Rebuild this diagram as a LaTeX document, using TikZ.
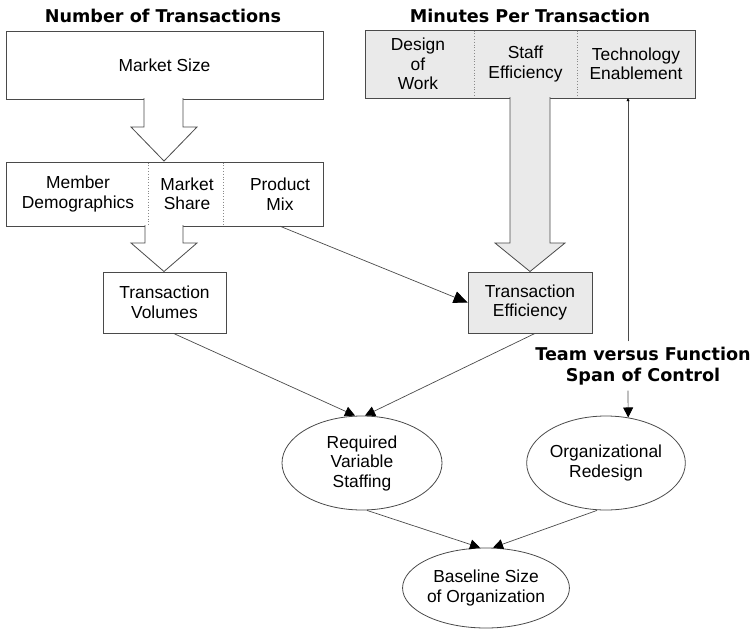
\documentclass[tikz,border=0pt]{standalone}
\usepackage{fontspec}
\setmainfont{Liberation Sans}
\newfontfamily\titlefont{DejaVu Sans}
\usetikzlibrary{arrows.meta,shapes.geometric}

\definecolor{panelgray}{HTML}{EAEAEA}
\definecolor{edgegray}{HTML}{4A4A4A}
\definecolor{dotgray}{HTML}{8A8A8A}

\tikzset{
  body/.style={font=\fontsize{17.4}{19.5}\selectfont, align=center, inner sep=0pt},
  heading/.style={font=\titlefont\bfseries\fontsize{17.6}{21}\selectfont, align=center, inner sep=0pt},
  box/.style={body, draw=edgegray, line width=0.8pt},
  graybox/.style={box, fill=panelgray},
  oval/.style={body, ellipse, draw=edgegray, line width=0.8pt},
  divider/.style={draw=dotgray, line width=0.8pt, dotted},
  blockarrow/.style={draw=edgegray, line width=0.8pt, line join=miter},
  link/.style={draw=edgegray, line width=0.7pt, -{Triangle[length=10pt,width=10pt,color=black]}},
}

\begin{document}
\begin{tikzpicture}[x=1pt,y=-1pt]
\useasboundingbox (0,0) rectangle (755,629);

% column headings
\node[heading, anchor=base] (hleft) at (163,23) {Number of Transactions};
\node[heading, anchor=base] (hright) at (530,23) {Minutes Per Transaction};

% left column: market size
\node[box, minimum width=317pt, minimum height=68pt] (msize) at (164.5,65) {Market Size};

% left column: three factors in one row
\node[box, minimum width=317pt, minimum height=64pt] (row) at (164.5,194) {};
\node[body, minimum height=64pt] (demo) at (78,194) {Member\\Demographics};
\node[body, minimum height=64pt] (share) at (187,194) {Market\\Share};
\node[body, minimum height=64pt] (mix) at (280,194) {Product\\Mix};
\draw[divider] (148,162.5) -- (148,225.5);
\draw[divider] (223,162.5) -- (223,225.5);

% transaction volumes
\node[box, minimum width=123pt, minimum height=61pt] (tv) at (164.5,302.5) {Transaction\\Volumes};

% right column: three levers
\node[graybox, minimum width=330pt, minimum height=68pt] (mpt) at (530,64) {};
\node[body, minimum height=68pt] (design) at (418,64) {Design\\of\\Work};
\node[body, minimum height=68pt] (staff) at (525.5,64) {Staff\\Efficiency};
\node[body, minimum height=68pt] (tech) at (636,64) {Technology\\Enablement};
\draw[divider] (474,30.5) -- (474,97.5);
\draw[divider] (577,30.5) -- (577,97.5);

% transaction efficiency
\node[graybox, minimum width=124pt, minimum height=61pt] (te) at (530,302.5) {Transaction\\Efficiency};

% block arrows (open at the top so they merge with the box above)
\path[blockarrow, fill=white]
  (144,98) -- (144,127) -- (131,127) -- (164,161) -- (197,127) -- (183,127) -- (183,98);
\path[blockarrow, fill=white]
  (145,225) -- (145,243) -- (131,243) -- (164,271.5) -- (197,243) -- (183,243) -- (183,225);
\path[blockarrow, fill=panelgray]
  (510,97) -- (510,243) -- (495,243) -- (530,271.5) -- (565,243) -- (550,243) -- (550,97);

% team versus function label
\node[heading, minimum height=49pt] (team) at (643,366) {Team versus Function\\Span of Control};

% ellipses
\node[oval, minimum width=160pt, minimum height=94pt] (rvs) at (362,463) {Required\\Variable\\Staffing};
\node[oval, minimum width=154pt, minimum height=94pt] (org) at (606,463) {Organizational\\Redesign};
\node[oval, minimum width=166pt, minimum height=80pt] (base) at (486,588) {Baseline Size\\of Organization};

% connectors
\draw[link, -{Triangle[length=14pt,width=12pt,color=black]}] (mix.south) -- (te.west);
\draw[link] ([xshift=9pt]tv.south) -- ([xshift=-7pt]rvs.north);
\draw[link] ([xshift=5pt]te.south) -- ([xshift=3pt]rvs.north);
\draw[link, -{Triangle[length=3pt,width=3pt,color=black]}] ([xshift=-15pt]team.north) -- ([xshift=-15pt]team.north |- tech.south);
\draw[link] ([xshift=-15pt]team.south) -- (org.64);
\draw[link] ([xshift=5pt]rvs.south) -- ([xshift=-6pt]base.north);
\draw[link] ([xshift=-9pt]org.south) -- ([xshift=7pt]base.north);
\end{tikzpicture}
\end{document}
